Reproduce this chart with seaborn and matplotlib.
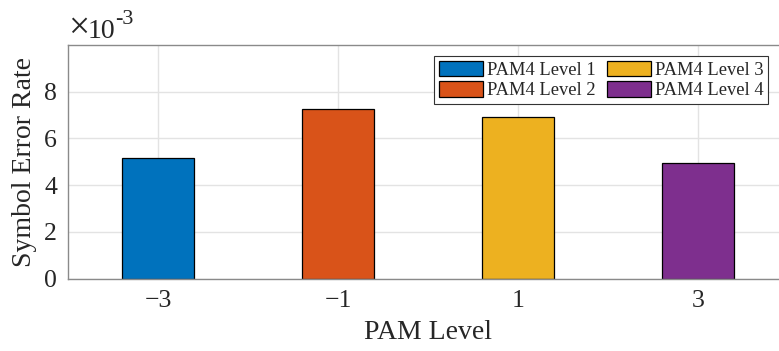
import matplotlib
matplotlib.use("Agg")
import matplotlib.pyplot as plt
import seaborn as sns
import pandas as pd

levels = [-3, -1, 1, 3]
ser_values = [5.17e-3, 7.27e-3, 6.93e-3, 4.93e-3]
series_names = ["PAM4 Level 1", "PAM4 Level 2", "PAM4 Level 3", "PAM4 Level 4"]
colors = ["#0072BD", "#D95319", "#EDB120", "#7E2F8E"]
ytick_vals = [0, 2e-3, 4e-3, 6e-3, 8e-3]
ytick_labels = ["0", "2", "4", "6", "8"]

sns.set_theme(style="white")
plt.rcParams["font.family"] = ["Liberation Serif", "DejaVu Serif"]
txt = "#262626"

df = pd.DataFrame({"level": levels, "ser": ser_values, "name": series_names})

fig = plt.figure(figsize=(7.79, 3.51), dpi=100)
ax = fig.add_axes([68 / 779, 72.5 / 351, 720 / 779, 233.5 / 351])

sns.barplot(data=df, x="level", y="ser", hue="name", palette=colors,
            native_scale=True, dodge=False, width=0.4, ax=ax,
            edgecolor="black", linewidth=0.9, saturation=1, legend=True)

ax.set_xlim(-4, 4)
ax.set_ylim(0, 0.01)
ax.set_xticks(levels)
ax.set_xticklabels(["\u22123", "\u22121", "1", "3"])
ax.set_yticks(ytick_vals)
ax.set_yticklabels(ytick_labels)
ax.grid(True, color="#e3e3e3", linewidth=1.0)
ax.set_axisbelow(True)
ax.tick_params(axis="both", direction="in", length=5, width=0.9, color="#555555",
               labelsize=18.5, labelcolor=txt, pad=8)
for side in ["left", "bottom", "top"]:
    ax.spines[side].set_visible(True)
    ax.spines[side].set_color("#8a8a8a")
    ax.spines[side].set_linewidth(1.0)
ax.spines["right"].set_visible(False)

ax.set_xlabel("PAM Level", fontsize=20, color=txt, labelpad=6)
ax.set_ylabel("Symbol Error Rate", fontsize=20, color=txt, labelpad=5)

fig.text(68 / 779, 1 - 38 / 351, "\u00d7", fontsize=27, color=txt, ha="left", va="baseline")
fig.text(88 / 779, 1 - 38 / 351, "10", fontsize=20, color=txt, ha="left", va="baseline")
fig.text(115 / 779, 1 - 24 / 351, "-3", fontsize=16, color=txt, ha="left", va="baseline")

leg = ax.legend(ncol=2, loc="upper right", bbox_to_anchor=(700 / 720, 1 - 11 / 233.5),
                fontsize=13.3, frameon=True, fancybox=False, framealpha=1,
                edgecolor="#333333", handlelength=2.4, handleheight=0.9,
                handletextpad=0.2, columnspacing=0.6, labelspacing=0.15,
                borderpad=0.25, borderaxespad=0)
leg.get_frame().set_linewidth(0.8)
for t in leg.get_texts():
    t.set_color(txt)

fig.savefig("out.png", dpi=100)
